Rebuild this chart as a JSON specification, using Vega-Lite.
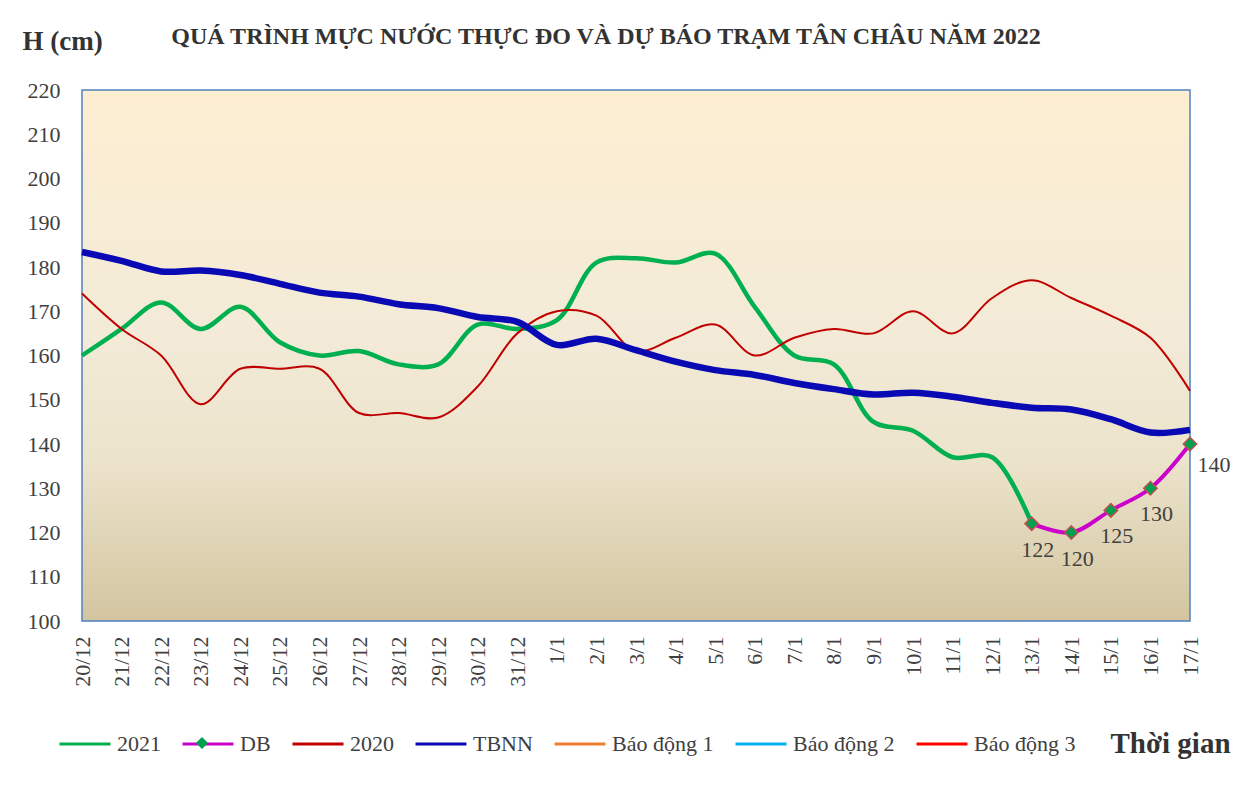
{
  "$schema": "https://vega.github.io/schema/vega-lite/v6.json",
  "width": 1108,
  "height": 531,
  "autosize": {"type": "none"},
  "padding": {"left": 82, "top": 90, "right": 66, "bottom": 171},
  "background": "white",
  "title": {
    "text": "QUÁ TRÌNH MỰC NƯỚC THỰC ĐO VÀ DỰ BÁO TRẠM TÂN CHÂU NĂM 2022",
    "font": "Liberation Serif",
    "fontSize": 24,
    "fontWeight": "bold",
    "color": "#333333",
    "anchor": "middle",
    "dx": -30,
    "offset": 0,
    "dy": 22
  },
  "config": {
    "font": "Liberation Serif",
    "view": {
      "stroke": "#4F81BD",
      "strokeWidth": 1.5,
      "fill": {
        "gradient": "linear",
        "x1": 0, "y1": 0, "x2": 0, "y2": 1,
        "stops": [
          {"offset": 0, "color": "#FDEED1"},
          {"offset": 0.45, "color": "#F3EBD8"},
          {"offset": 0.7, "color": "#ECE3CB"},
          {"offset": 1, "color": "#D3C5A0"}
        ]
      }
    },
    "axis": {
      "labelFont": "Liberation Serif",
      "labelFontSize": 22,
      "labelColor": "#404040",
      "titleFont": "Liberation Serif",
      "titleColor": "#333333",
      "ticks": false,
      "tickSize": 0,
      "domain": false,
      "grid": false
    },
    "legend": {
      "labelFont": "Liberation Serif",
      "labelFontSize": 22,
      "labelColor": "#404040"
    }
  },
  "datasets": {
    "levels": [
      {"d": "20/12", "s": "2021", "v": 160},
      {"d": "21/12", "s": "2021", "v": 166},
      {"d": "22/12", "s": "2021", "v": 172},
      {"d": "23/12", "s": "2021", "v": 166},
      {"d": "24/12", "s": "2021", "v": 171},
      {"d": "25/12", "s": "2021", "v": 163},
      {"d": "26/12", "s": "2021", "v": 160},
      {"d": "27/12", "s": "2021", "v": 161},
      {"d": "28/12", "s": "2021", "v": 158},
      {"d": "29/12", "s": "2021", "v": 158},
      {"d": "30/12", "s": "2021", "v": 167},
      {"d": "31/12", "s": "2021", "v": 166},
      {"d": "1/1", "s": "2021", "v": 168},
      {"d": "2/1", "s": "2021", "v": 181},
      {"d": "3/1", "s": "2021", "v": 182},
      {"d": "4/1", "s": "2021", "v": 181},
      {"d": "5/1", "s": "2021", "v": 183},
      {"d": "6/1", "s": "2021", "v": 171},
      {"d": "7/1", "s": "2021", "v": 160},
      {"d": "8/1", "s": "2021", "v": 158},
      {"d": "9/1", "s": "2021", "v": 145},
      {"d": "10/1", "s": "2021", "v": 143},
      {"d": "11/1", "s": "2021", "v": 137},
      {"d": "12/1", "s": "2021", "v": 137},
      {"d": "13/1", "s": "2021", "v": 122},
      {"d": "13/1", "s": "DB", "v": 122},
      {"d": "14/1", "s": "DB", "v": 120},
      {"d": "15/1", "s": "DB", "v": 125},
      {"d": "16/1", "s": "DB", "v": 130},
      {"d": "17/1", "s": "DB", "v": 140},
      {"d": "20/12", "s": "2020", "v": 174},
      {"d": "21/12", "s": "2020", "v": 166},
      {"d": "22/12", "s": "2020", "v": 160},
      {"d": "23/12", "s": "2020", "v": 149},
      {"d": "24/12", "s": "2020", "v": 157},
      {"d": "25/12", "s": "2020", "v": 157},
      {"d": "26/12", "s": "2020", "v": 157},
      {"d": "27/12", "s": "2020", "v": 147},
      {"d": "28/12", "s": "2020", "v": 147},
      {"d": "29/12", "s": "2020", "v": 146},
      {"d": "30/12", "s": "2020", "v": 153},
      {"d": "31/12", "s": "2020", "v": 165},
      {"d": "1/1", "s": "2020", "v": 170},
      {"d": "2/1", "s": "2020", "v": 169},
      {"d": "3/1", "s": "2020", "v": 161},
      {"d": "4/1", "s": "2020", "v": 164},
      {"d": "5/1", "s": "2020", "v": 167},
      {"d": "6/1", "s": "2020", "v": 160},
      {"d": "7/1", "s": "2020", "v": 164},
      {"d": "8/1", "s": "2020", "v": 166},
      {"d": "9/1", "s": "2020", "v": 165},
      {"d": "10/1", "s": "2020", "v": 170},
      {"d": "11/1", "s": "2020", "v": 165},
      {"d": "12/1", "s": "2020", "v": 173},
      {"d": "13/1", "s": "2020", "v": 177},
      {"d": "14/1", "s": "2020", "v": 173},
      {"d": "15/1", "s": "2020", "v": 169},
      {"d": "16/1", "s": "2020", "v": 164},
      {"d": "17/1", "s": "2020", "v": 152},
      {"d": "20/12", "s": "TBNN", "v": 183.4},
      {"d": "21/12", "s": "TBNN", "v": 181.4},
      {"d": "22/12", "s": "TBNN", "v": 179},
      {"d": "23/12", "s": "TBNN", "v": 179.2},
      {"d": "24/12", "s": "TBNN", "v": 178.2},
      {"d": "25/12", "s": "TBNN", "v": 176.2},
      {"d": "26/12", "s": "TBNN", "v": 174.2},
      {"d": "27/12", "s": "TBNN", "v": 173.3},
      {"d": "28/12", "s": "TBNN", "v": 171.6},
      {"d": "29/12", "s": "TBNN", "v": 170.7},
      {"d": "30/12", "s": "TBNN", "v": 168.7},
      {"d": "31/12", "s": "TBNN", "v": 167.6},
      {"d": "1/1", "s": "TBNN", "v": 162.4},
      {"d": "2/1", "s": "TBNN", "v": 163.8},
      {"d": "3/1", "s": "TBNN", "v": 161.2},
      {"d": "4/1", "s": "TBNN", "v": 158.6},
      {"d": "5/1", "s": "TBNN", "v": 156.7},
      {"d": "6/1", "s": "TBNN", "v": 155.6},
      {"d": "7/1", "s": "TBNN", "v": 153.8},
      {"d": "8/1", "s": "TBNN", "v": 152.4},
      {"d": "9/1", "s": "TBNN", "v": 151.2},
      {"d": "10/1", "s": "TBNN", "v": 151.6},
      {"d": "11/1", "s": "TBNN", "v": 150.7},
      {"d": "12/1", "s": "TBNN", "v": 149.3},
      {"d": "13/1", "s": "TBNN", "v": 148.2},
      {"d": "14/1", "s": "TBNN", "v": 147.8},
      {"d": "15/1", "s": "TBNN", "v": 145.6},
      {"d": "16/1", "s": "TBNN", "v": 142.6},
      {"d": "17/1", "s": "TBNN", "v": 143.2}
    ]
  },
  "data": {"name": "levels"},
  "encoding": {
    "x": {
      "field": "d",
      "type": "ordinal",
      "scale": {
        "type": "point",
        "padding": 0,
        "domain": ["20/12","21/12","22/12","23/12","24/12","25/12","26/12","27/12","28/12","29/12","30/12","31/12","1/1","2/1","3/1","4/1","5/1","6/1","7/1","8/1","9/1","10/1","11/1","12/1","13/1","14/1","15/1","16/1","17/1"]
      },
      "axis": {
        "labelAngle": -90,
        "labelPadding": 15,
        "title": "Thời gian",
        "titleFontSize": 29,
        "titleFontWeight": "bold",
        "titleAngle": 0,
        "titleAlign": "center",
        "titleBaseline": "middle",
        "titleX": 1088,
        "titleY": 122
      }
    },
    "y": {
      "field": "v",
      "type": "quantitative",
      "scale": {"domain": [100, 220], "nice": false, "zero": false},
      "axis": {
        "values": [100,110,120,130,140,150,160,170,180,190,200,210,220],
        "labelPadding": 22,
        "title": "H (cm)",
        "titleFontSize": 27,
        "titleFontWeight": "bold",
        "titleAngle": 0,
        "titleAlign": "left",
        "titleBaseline": "middle",
        "titleX": -60,
        "titleY": -49
      }
    },
    "color": {
      "field": "s",
      "type": "nominal",
      "scale": {
        "domain": ["2021", "DB", "2020", "TBNN", "Báo động 1", "Báo động 2", "Báo động 3"],
        "range": ["#00B050", "#CC00CC", "#C00000", "#0A0AB4", "#ED7D31", "#00B0F0", "#FF0000"]
      },
      "legend": {
        "title": null,
        "orient": "none",
        "direction": "horizontal",
        "legendX": -24,
        "legendY": 627,
        "padding": 0,
        "symbolType": "stroke",
        "symbolSize": 2601,
        "symbolStrokeWidth": 3,
        "labelFont": "Liberation Serif",
        "labelFontSize": 22,
        "labelColor": "#404040",
        "labelOffset": 5,
        "columnPadding": 15,
        "labelLimit": 300
      }
    }
  },
  "layer": [
    {
      "transform": [{"filter": "datum.s === '2021'"}],
      "mark": {"type": "line", "interpolate": "catmull-rom", "strokeWidth": 4.5}
    },
    {
      "transform": [{"filter": "datum.s === 'DB'"}],
      "mark": {"type": "line", "interpolate": "catmull-rom", "strokeWidth": 4}
    },
    {
      "transform": [{"filter": "datum.s === '2020'"}],
      "mark": {"type": "line", "interpolate": "catmull-rom", "strokeWidth": 2}
    },
    {
      "transform": [{"filter": "datum.s === 'TBNN'"}],
      "mark": {"type": "line", "interpolate": "catmull-rom", "strokeWidth": 6.5}
    },
    {
      "transform": [{"filter": "datum.s === 'DB'"}],
      "mark": {"type": "point", "filled": true, "fill": "#00A050", "stroke": "#C0504D", "strokeWidth": 1.5, "size": 180, "opacity": 1},
      "encoding": {
        "color": {"value": "#00A050"},
        "shape": {
          "datum": "DB",
          "type": "nominal",
          "scale": {"domain": ["DB"], "range": ["diamond"]},
          "legend": {
            "title": null,
            "orient": "none",
            "legendX": 113,
            "legendY": 646,
            "padding": 0,
            "symbolSize": 150,
            "symbolFillColor": "#00A050",
            "symbolStrokeColor": "#C0504D",
            "symbolStrokeWidth": 1.5,
            "labelFontSize": 1,
            "labelExpr": "''"
          }
        }
      }
    },
    {
      "transform": [{"filter": "datum.s === 'DB' && datum.d !== '17/1'"}],
      "mark": {"type": "text", "font": "Liberation Serif", "fontSize": 22, "color": "#404040", "align": "center", "baseline": "middle", "dx": 6, "dy": 26},
      "encoding": {"text": {"field": "v", "type": "quantitative"}, "color": {"value": "#404040"}}
    },
    {
      "transform": [{"filter": "datum.s === 'DB' && datum.d === '17/1'"}],
      "mark": {"type": "text", "font": "Liberation Serif", "fontSize": 22, "color": "#404040", "align": "center", "baseline": "middle", "dx": 24, "dy": 21},
      "encoding": {"text": {"field": "v", "type": "quantitative"}, "color": {"value": "#404040"}}
    }
  ]
}
